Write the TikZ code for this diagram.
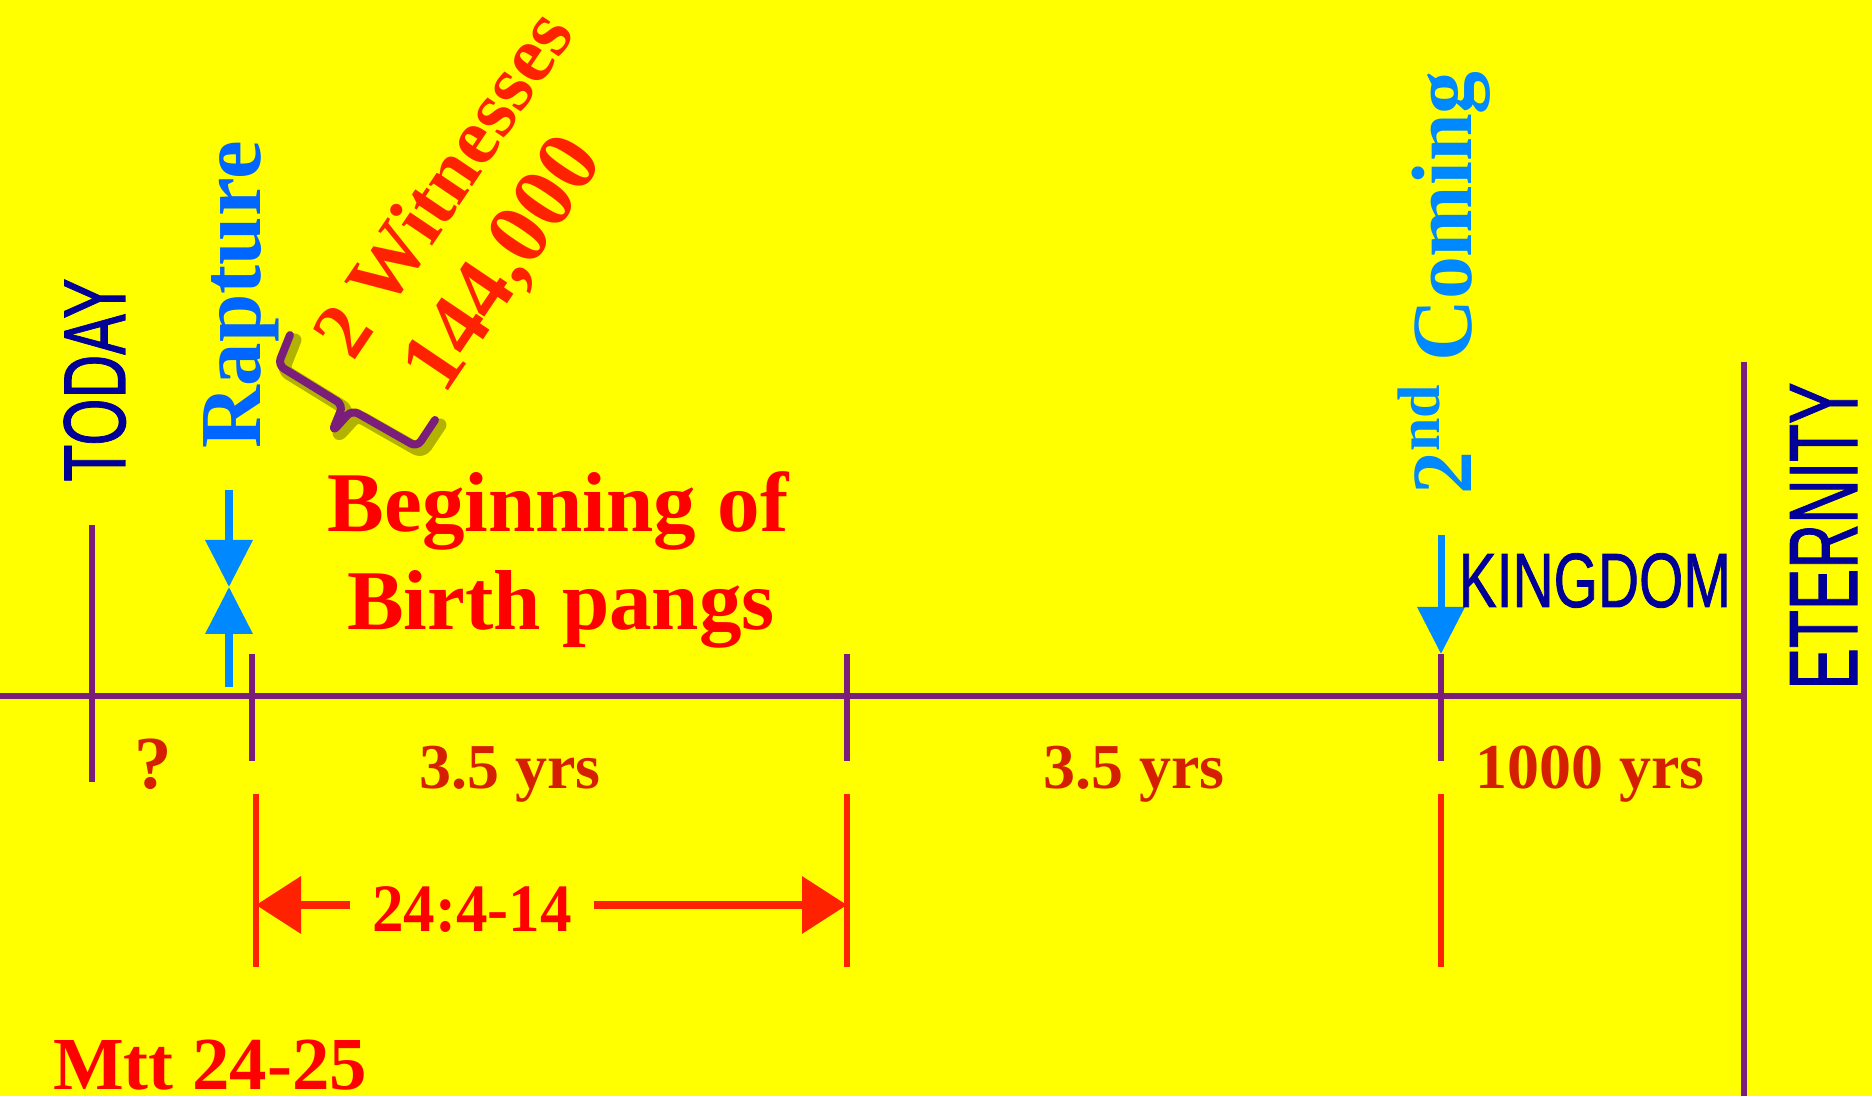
\documentclass[tikz,border=0pt]{standalone}
\usepackage{fontspec}
\setmainfont{Liberation Serif}
\setsansfont{Liberation Sans}
\newfontfamily\narrowsans{Liberation Sans}[FakeBold=1.2]
\usepackage{graphicx}
\usetikzlibrary{arrows.meta}
\definecolor{bgyellow}{HTML}{FFFF00}
\definecolor{purp}{HTML}{7B1E7A}
\definecolor{skyblue}{HTML}{0088FF}
\definecolor{rapblue}{HTML}{0066FF}
\definecolor{navy}{HTML}{000099}
\definecolor{brightred}{HTML}{FF0000}
\definecolor{linered}{HTML}{FF2200}
\definecolor{darkred}{HTML}{D42000}
\newcommand{\squeeze}[2]{\scalebox{#1}[1]{#2}}
\newcommand{\fs}[1]{\fontsize{#1}{#1}\selectfont}
\tikzset{
  axis/.style={line width=0.06cm, color=purp},
  guide/.style={line width=0.06cm, color=linered},
  bluearrow/.style={-{Triangle[length=4.7mm,width=4.6mm]}, line width=0.07cm, color=skyblue},
  redarrow/.style={-{Triangle[length=4.5mm,width=5.6mm]}, line width=0.07cm, color=linered},
  span/.style={anchor=base, text=darkred, font=\bfseries\fs{18.2}},
  brace/.style={line width=0.08cm, line cap=round, line join=round, rounded corners=2pt},
  every node/.append style={inner sep=0pt}
}

\begin{document}
\begin{tikzpicture}
\fill[bgyellow] (0,0) rectangle (18.72,10.96);
\useasboundingbox (0,0) rectangle (18.72,10.96);
% time line
\coordinate (start) at (0,4.00);
\coordinate (stop) at (17.44,4.00);
\draw[axis] (start) -- (stop);
\draw[axis] (17.44,0) -- (17.44,7.34);
\draw[axis] (0.92,5.71) -- (0.92,3.14);
\foreach \x in {2.52,8.47,14.41} {\draw[axis] (\x,4.42) -- (\x,3.35);}
\foreach \x in {2.56,8.47,14.41} {\draw[guide] (\x,3.02) -- (\x,1.29);}
% rapture and second coming
\coordinate (raptip) at (2.29,5.09);
\draw[bluearrow] (2.29,6.06) -- (raptip);
\draw[bluearrow] (2.29,4.09) -- (raptip);
\draw[bluearrow] (14.41,5.61) -- (14.41,4.42);
% brace
\draw[brace, black, opacity=0.3, line width=0.13cm, shift={(0.05,-0.05)}] (2.90,7.61) -- (2.78,7.31) -- (3.43,6.91) -- (3.32,6.64) -- (3.52,6.86) -- (4.17,6.49) -- (4.35,6.76);
\draw[brace, purp] (2.90,7.61) -- (2.78,7.31) -- (3.43,6.91) -- (3.32,6.64) -- (3.52,6.86) -- (4.17,6.49) -- (4.35,6.76);
% labels
\node[rotate=90, anchor=base, text=navy, font=\narrowsans\fs{25}] (today) at (1.25,7.16) {\squeeze{0.69}{TODAY}};
\node[rotate=90, anchor=base, text=rapblue, font=\bfseries\fs{24.75}] (rapture) at (2.60,8.01) {Rapture};
\node[rotate=56, text=linered, font=\bfseries\fs{22.8}] (witness) at (4.42,9.13) {2 Witnesses};
\node[rotate=56, text=linered, font=\bfseries\fs{25}] (sealed) at (5.06,8.30) {144,000};
\node[anchor=base, text=brightred, font=\bfseries\fs{24.2}] (begin) at (5.58,5.65) {Beginning of};
\node[anchor=base, text=brightred, font=\bfseries\fs{24.2}] (pangs) at (5.61,4.66) {Birth pangs};
\node[rotate=90, anchor=base, text=skyblue, font=\bfseries\fs{24.4}] (coming) at (14.71,8.13) {2\textsuperscript{nd} Coming};
\node[anchor=base west, text=navy, font=\narrowsans\fs{21.9}] (kingdom) at (14.58,4.89) {\squeeze{0.74}{KINGDOM}};
\node[rotate=90, anchor=base, text=navy, font=\narrowsans\fs{27.6}] (eternity) at (18.57,5.60) {\squeeze{0.64}{ETERNITY}};
\node[span, font=\bfseries\fs{21.3}] (unknown) at (1.53,3.07) {?};
\node[span] (first) at (5.10,3.07) {3.5 yrs};
\node[span] (second) at (11.34,3.07) {3.5 yrs};
\node[span] (millennium) at (15.90,3.07) {1000 yrs};
% scripture span
\coordinate (refL) at (2.56,1.91);
\coordinate (refR) at (8.47,1.91);
\node[anchor=base, text=brightred, font=\bfseries\fs{19.3}, inner xsep=0.21cm] (ref) at (4.72,1.65) {\squeeze{0.93}{24:4-14}};
\draw[redarrow] (ref.west |- refL) -- (refL);
\draw[redarrow] (ref.east |- refR) -- (refR);
\node[anchor=base, text=brightred, font=\bfseries\fs{21.3}] (mtt) at (2.10,0.07) {Mtt 24-25};
\end{tikzpicture}
\end{document}
